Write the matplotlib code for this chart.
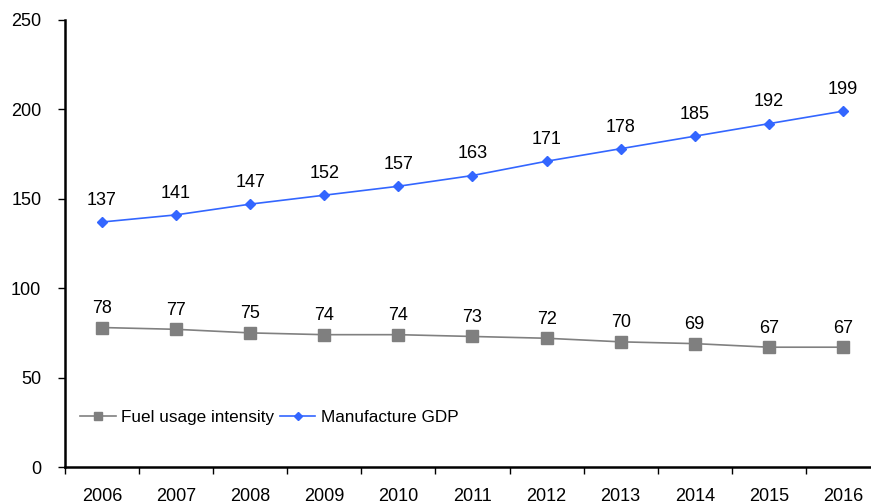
import matplotlib.pyplot as plt
import numpy as np

plt.rcParams['font.family'] = ['Liberation Sans', 'DejaVu Sans']

# --- data ---
years = ['2006', '2007', '2008', '2009', '2010', '2011',
         '2012', '2013', '2014', '2015', '2016']
fuel_intensity = [78, 77, 75, 74, 74, 73, 72, 70, 69, 67, 67]
manufacture_gdp = [137, 141, 147, 152, 157, 163, 171, 178, 185, 192, 199]

x = np.arange(len(years))

fig = plt.figure(figsize=(8.71, 5.04), dpi=100)
ax = fig.add_axes([0.0746, 0.0734, 0.9357, 0.887])

ax.plot(x, fuel_intensity, color='#808080', lw=1.2, marker='s', ms=8,
        markerfacecolor='#7f7f7f', markeredgecolor='#7f7f7f',
        label='Fuel usage intensity')
ax.plot(x, manufacture_gdp, color='#3366ff', lw=1.2, marker='D', ms=5.5,
        markerfacecolor='#3366ff', markeredgecolor='#3366ff',
        label='Manufacture GDP')

# value labels above each point
for xi, v in zip(x, fuel_intensity):
    ax.annotate(str(v), (xi, v), xytext=(0, 7.5), textcoords='offset points',
                ha='center', va='bottom', fontsize=13)
for xi, v in zip(x, manufacture_gdp):
    ax.annotate(str(v), (xi, v), xytext=(0, 9.5), textcoords='offset points',
                ha='center', va='bottom', fontsize=13)

ax.set_xlim(-0.5, len(years) - 0.5)
ax.set_ylim(0, 250)
ax.set_yticks(range(0, 251, 50))

# category labels centred, ticks between categories
ax.set_xticks(x)
ax.set_xticklabels(years, fontsize=13)
ax.set_xticks(np.arange(-0.5, len(years)), minor=True)
ax.tick_params(axis='x', which='major', length=0, pad=15)
ax.tick_params(axis='x', which='minor', length=5, width=1, direction='out')
ax.tick_params(axis='y', length=5, width=1, direction='out', labelsize=13, pad=12)

for side in ['top', 'right']:
    ax.spines[side].set_visible(False)
for side in ['left', 'bottom']:
    ax.spines[side].set_linewidth(1.8)

ax.legend(loc='lower left', bbox_to_anchor=(0.0, 0.06), ncol=2, frameon=False,
          fontsize=12.3, markerscale=0.8, handlelength=2.1,
          handletextpad=0.3, columnspacing=0.3)

fig.savefig('out.png', dpi=100)
